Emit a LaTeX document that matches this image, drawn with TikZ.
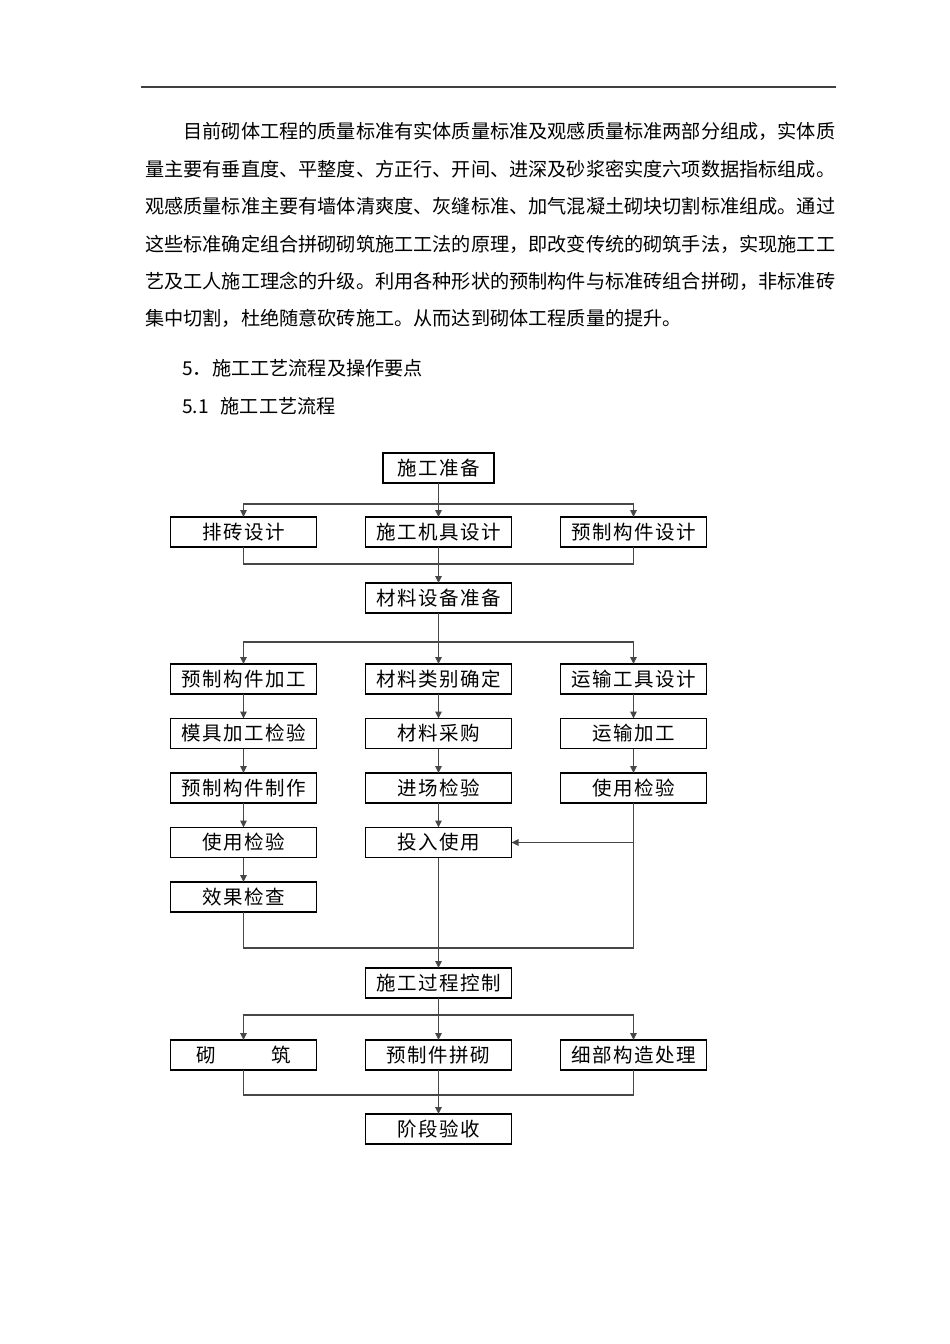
\documentclass[tikz,border=0pt]{standalone}
\usepackage{fontspec}
\usepackage{tikz}
\usetikzlibrary{arrows.meta, positioning, calc}
\newfontfamily\cjk{Noto Sans CJK SC}
\newfontfamily\cjkbox[LetterSpace=8]{Noto Sans CJK SC}
\newcommand{\bodyfont}{\cjk\fontsize{19.17}{23}\selectfont}
\newcommand{\boxfont}{\cjkbox\fontsize{19.5}{23}\selectfont}

\begin{document}
\begin{tikzpicture}[
    x=1pt, y=-1pt,
    box/.style={rectangle, draw=black, line width=1.1pt, minimum width=146pt, minimum height=30pt, inner sep=0pt, outer sep=0pt, font=\boxfont},
    link/.style={draw=black!72, line width=1.3pt},
    arrow/.style={link, -{Triangle[length=7pt, width=6.5pt]}},
    bodytext/.style={anchor=west, inner sep=0pt, font=\bodyfont}
]
    \useasboundingbox (0,0) rectangle (950,1344);

    % Page rule
    \coordinate (ruleL) at (141,87);
    \coordinate (ruleR) at (836,87);
    \draw[black!75, line width=1.6pt] (ruleL) -- (ruleR);

    % Paragraph
    \node[bodytext] (p1) at (183.3,131.7) {目前砌体工程的质量标准有实体质量标准及观感质量标准两部分组成，实体质};
    \node[bodytext] (p2) at (145,169.1) {量主要有垂直度、平整度、方正行、开间、进深及砂浆密实度六项数据指标组成。};
    \node[bodytext] (p3) at (145,206.5) {观感质量标准主要有墙体清爽度、灰缝标准、加气混凝土砌块切割标准组成。通过};
    \node[bodytext] (p4) at (145,243.9) {这些标准确定组合拼砌砌筑施工工法的原理，即改变传统的砌筑手法，实现施工工};
    \node[bodytext] (p5) at (145,281.3) {艺及工人施工理念的升级。利用各种形状的预制构件与标准砖组合拼砌，非标准砖};
    \node[bodytext] (p6) at (145,318.7) {集中切割，杜绝随意砍砖施工。从而达到砌体工程质量的提升。};

    % Headings
    \node[bodytext] (h1) at (182,368.5) {5．施工工艺流程及操作要点};
    \node[bodytext] (h2) at (182,406.5) {5.1\hspace{12pt}施工工艺流程};

    % Design stage
    \node[box, minimum width=111pt] (prep) at (438.5,468) {施工准备};
    \node[box] (mach) at (438.5,532) {施工机具设计};
    \node[box, left=49pt of mach] (brick) {排砖设计};
    \node[box, right=49pt of mach] (precast) {预制构件设计};
    \node[box, below=36pt of mach] (matprep) {材料设备准备};

    % Three parallel lines
    \node[box, below=51pt of matprep] (mattype) {材料类别确定};
    \node[box, left=49pt of mattype] (pcwork) {预制构件加工};
    \node[box, right=49pt of mattype] (tooldes) {运输工具设计};
    \node[box, below=24.5pt of pcwork] (mould) {模具加工检验};
    \node[box, below=24.5pt of mattype] (purchase) {材料采购};
    \node[box, below=24.5pt of tooldes] (toolwork) {运输加工};
    \node[box, below=24.5pt of mould] (pcmake) {预制构件制作};
    \node[box, below=24.5pt of purchase] (siteck) {进场检验};
    \node[box, below=24.5pt of toolwork] (tooluse) {使用检验};
    \node[box, below=24.5pt of pcmake] (pcuse) {使用检验};
    \node[box, below=24.5pt of siteck] (putuse) {投入使用};
    \node[box, below=24.5pt of pcuse] (effect) {效果检查};

    % Construction stage
    \node[box, below=110.5pt of putuse] (control) {施工过程控制};
    \node[box, below=42pt of control] (pcbuild) {预制件拼砌};
    \node[box, left=49pt of pcbuild] (masonry) {砌\hspace{56pt}筑};
    \node[box, right=49pt of pcbuild] (detail) {细部构造处理};
    \node[box, below=44pt of pcbuild] (accept) {阶段验收};

    % Bus points
    \coordinate (bus1) at ($(mach.north)+(0,-13)$);
    \coordinate (bus2) at ($(mach.south)+(0,17)$);
    \coordinate (bus3) at ($(mattype.north)+(0,-22)$);
    \coordinate (bus4) at ($(control.north -| tooluse)+(0,-20)$);
    \coordinate (bus5) at ($(control.south)+(0,17)$);
    \coordinate (bus6) at ($(pcbuild.south)+(0,25)$);

    % Arrows
    \draw[link] (prep) -- (bus1);
    \draw[arrow] (bus1) -| (brick.north);
    \draw[arrow] (bus1) -- (mach);
    \draw[arrow] (bus1) -| (precast.north);

    \draw[link] (brick.south) |- (bus2);
    \draw[link] (precast.south) |- (bus2);
    \draw[arrow] (mach) -- (matprep);

    \draw[link] (matprep) -- (bus3);
    \draw[arrow] (bus3) -| (pcwork.north);
    \draw[arrow] (bus3) -- (mattype);
    \draw[arrow] (bus3) -| (tooldes.north);

    \foreach \a/\b in {pcwork/mould, mould/pcmake, pcmake/pcuse, pcuse/effect,
                       mattype/purchase, purchase/siteck, siteck/putuse,
                       tooldes/toolwork, toolwork/tooluse}
        \draw[arrow] (\a) -- (\b);

    \draw[link] (effect.south) |- (bus4) -- (tooluse.south);
    \draw[arrow] (tooluse.south |- putuse.east) -- (putuse.east);
    \draw[arrow] (putuse) -- (control);

    \draw[link] (control) -- (bus5);
    \draw[arrow] (bus5) -| (masonry.north);
    \draw[arrow] (bus5) -- (pcbuild);
    \draw[arrow] (bus5) -| (detail.north);

    \draw[link] (masonry.south) |- (bus6);
    \draw[link] (detail.south) |- (bus6);
    \draw[arrow] (pcbuild) -- (accept);
\end{tikzpicture}
\end{document}
